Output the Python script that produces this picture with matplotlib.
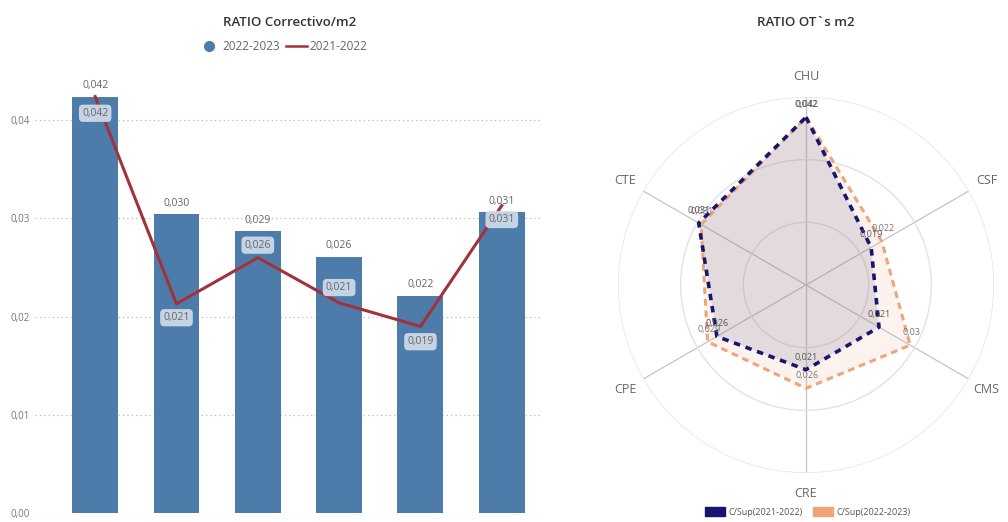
import numpy as np
import matplotlib
matplotlib.use('Agg')
from matplotlib import pyplot as plt
from matplotlib.lines import Line2D
from matplotlib.patches import Patch

plt.rcParams['font.family'] = ['Open Sans', 'DejaVu Sans']

# bar + line chart data
categories = ['CHU', 'CMS', 'CPE', 'CRE', 'CSF', 'CTE']
ratio_2223 = [0.0424, 0.0304, 0.0287, 0.0261, 0.0221, 0.0306]
ratio_2122 = [0.0424, 0.0213, 0.0260, 0.0214, 0.0190, 0.0313]
yticks = [0.00, 0.01, 0.02, 0.03, 0.04]

# radar data
radar_cats = ['CHU', 'CSF', 'CMS', 'CRE', 'CPE', 'CTE']
radar_2122 = [0.0424, 0.0190, 0.0213, 0.0214, 0.0260, 0.0313]
radar_2223 = [0.0424, 0.0221, 0.0304, 0.0261, 0.0287, 0.0306]

bar_color = '#4d7cab'
line_color = '#a3313a'
navy = '#16166e'
peach = '#f0a47a'
grey_txt = '#666666'

def fmt3(v):
    return f'{v:.3f}'.replace('.', ',')

def fmt_trim(v):
    return f'{v:.3f}'.rstrip('0').replace('.', ',')

fig = plt.figure(figsize=(10.08, 5.22), dpi=100)

# ---- left: bars + line
ax = fig.add_axes([35/1008, 9/522, 505/1008, 438/522])
x = np.arange(len(categories))
ax.bar(x, ratio_2223, width=0.565, color=bar_color, zorder=2)
ax.plot(x, ratio_2122, color=line_color, lw=2.2, zorder=3)
ax.set_xlim(-0.74, 5.47)
ax.set_ylim(0, 0.0446)
ax.set_yticks(yticks)
ax.set_yticklabels([f'{t:.2f}'.replace('.', ',') for t in yticks])
ax.set_xticks(x)
ax.set_xticklabels(categories)
ax.tick_params(axis='both', length=0, labelsize=7, labelcolor='#777777')
ax.tick_params(axis='x', pad=7)
ax.grid(axis='y', linestyle=(0, (1, 2.5)), color='#bbbbbb', lw=0.9, zorder=0)
for s in ax.spines.values():
    s.set_visible(False)

for xi, v in zip(x, ratio_2223):
    ax.annotate(fmt3(v), (xi, v), xytext=(0, 4), textcoords='offset points',
                ha='center', va='bottom', fontsize=7.5, color=grey_txt)

# label offsets (points) for the line labels
line_dy = [-12, -10, 9, 11, -11, -10]
for xi, v, dy in zip(x, ratio_2122, line_dy):
    ax.annotate(fmt3(v), (xi, v), xytext=(0, dy), textcoords='offset points',
                ha='center', va='center', fontsize=7.5, color=grey_txt, zorder=5,
                bbox=dict(boxstyle='round,pad=0.3,rounding_size=0.4',
                          fc='#d3deeb', ec='none', alpha=0.9))

fig.text(290/1008, 1 - 22/522, 'RATIO Correctivo/m2', ha='center', va='center',
         fontsize=9.5, color='#333333', fontweight='semibold')
handles = [Line2D([], [], marker='o', ls='none', color=bar_color, markersize=7),
           Line2D([], [], color=line_color, lw=1.8)]
fig.legend(handles, ['2022-2023', '2021-2022'], loc='center',
           bbox_to_anchor=(283/1008, 1 - 47/522), ncol=2, frameon=False,
           fontsize=8.5, labelcolor='#666666', handlelength=1.8, handletextpad=0.2,
           columnspacing=0.5)

# ---- right: radar
rmax = 0.0475
pax = fig.add_axes([(806-188)/1008, (522-285-188)/522, 376/1008, 376/522], projection='polar')
pax.set_theta_zero_location('N')
pax.set_theta_direction(-1)
angles = np.linspace(0, 2*np.pi, len(radar_cats), endpoint=False)
ang_c = np.append(angles, angles[0])

v1 = np.append(radar_2122, radar_2122[0])
v2 = np.append(radar_2223, radar_2223[0])
pax.fill(ang_c, v2, color=peach, alpha=0.12, lw=0, zorder=2)
pax.fill(ang_c, v1, color='#5c5a8c', alpha=0.16, lw=0, zorder=2)
pax.plot(ang_c, v2, color=peach, lw=2.2, ls=(0, (2.2, 1.6)), zorder=3)
pax.plot(ang_c, v1, color=navy, lw=2.6, ls=(0, (1.8, 1.6)), zorder=4)

pax.set_ylim(0, rmax)
pax.set_yticks([rmax/3, 2*rmax/3, rmax])
pax.set_yticklabels([])
pax.set_xticks(angles)
pax.set_xticklabels([])
pax.yaxis.grid(True, color='#e2e2e2', lw=1)
pax.xaxis.grid(True, color='#c4c4c4', lw=0.9)
pax.spines['polar'].set_visible(False)
pax.tick_params(length=0)

for a, lab in zip(angles, radar_cats):
    pax.text(a, rmax * 1.11, lab, ha='center', va='center', fontsize=9, color='#666666')

for a, v in zip(angles, radar_2223):
    pax.annotate(fmt_trim(v), (a, v), xytext=(1, 9), textcoords='offset points',
                 ha='center', va='center', fontsize=6.5, color='#777777', zorder=6)
for a, v in zip(angles, radar_2122):
    pax.annotate(fmt_trim(v), (a, v), xytext=(0, 9), textcoords='offset points',
                 ha='center', va='center', fontsize=6.5, color='#555555', zorder=6)

fig.text(806/1008, 1 - 22/522, 'RATIO OT`s m2', ha='center', va='center',
         fontsize=9.5, color='#333333', fontweight='semibold')
rh = [Patch(facecolor=navy, edgecolor=navy), Patch(facecolor=peach, edgecolor=peach)]
fig.legend(rh, ['C/Sup(2021-2022)', 'C/Sup(2022-2023)'], loc='center',
           bbox_to_anchor=(808/1008, 1 - 512/522), ncol=2, frameon=False,
           fontsize=6.5, labelcolor='#555555', handlelength=2.2, handleheight=1.1,
           handletextpad=0.4, columnspacing=1.2)

fig.savefig('out.png', dpi=100)
